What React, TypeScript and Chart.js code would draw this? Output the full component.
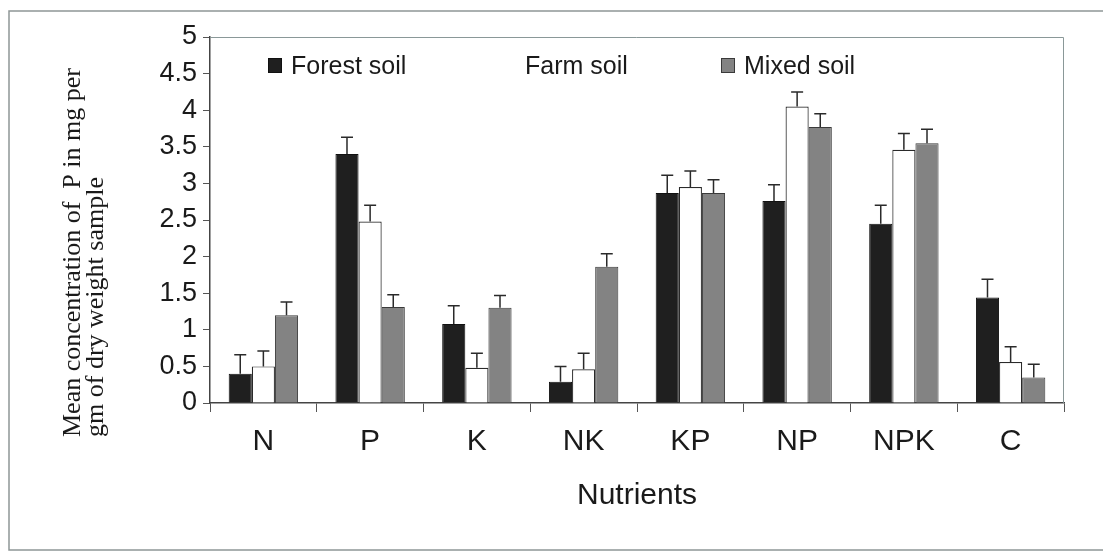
import React, { useEffect, useRef } from "react";
import { Chart, registerables } from "chart.js";

Chart.register(...registerables);

const categories = ["N", "P", "K", "NK", "KP", "NP", "NPK", "C"];
const seriesNames = ["Forest soil", "Farm soil", "Mixed soil"];
const forestValues = [0.4, 3.4, 1.08, 0.29, 2.87, 2.76, 2.45, 1.44];
const farmValues = [0.5, 2.48, 0.48, 0.46, 2.95, 4.05, 3.46, 0.56];
const mixedValues = [1.2, 1.31, 1.3, 1.86, 2.87, 3.77, 3.55, 0.35];
const forestErrors = [0.26, 0.23, 0.25, 0.21, 0.24, 0.22, 0.25, 0.25];
const farmErrors = [0.21, 0.22, 0.2, 0.22, 0.22, 0.2, 0.22, 0.21];
const mixedErrors = [0.18, 0.17, 0.17, 0.18, 0.18, 0.18, 0.19, 0.18];
const yTickLabels = ["0", "0.5", "1", "1.5", "2", "2.5", "3", "3.5", "4", "4.5", "5"];
const yTitleLines = ["Mean concentration of  P in mg per", "gm of dry weight sample"];
const xTitle = "Nutrients";

const W = 1103;
const H = 557;

const errorBarPlugin = {
  id: "errorBars",
  afterDatasetsDraw(chart: any) {
    const ctx = chart.ctx;
    const yScale = chart.scales.y;
    ctx.save();
    ctx.strokeStyle = "#2a2a2a";
    ctx.lineWidth = 1.5;
    chart.data.datasets.forEach((ds: any, di: number) => {
      const meta = chart.getDatasetMeta(di);
      const errs = ds.errors as number[];
      meta.data.forEach((bar: any, i: number) => {
        const top = yScale.getPixelForValue(ds.data[i] + errs[i]);
        const x = bar.x;
        ctx.beginPath();
        ctx.moveTo(x, bar.y);
        ctx.lineTo(x, top);
        ctx.moveTo(x - 6, top);
        ctx.lineTo(x + 6, top);
        ctx.stroke();
      });
    });
    ctx.restore();
  },
};

const decorPlugin = {
  id: "decor",
  beforeDraw(chart: any) {
    const ctx = chart.ctx;
    ctx.save();
    ctx.fillStyle = "#ffffff";
    ctx.fillRect(0, 0, chart.width, chart.height);
    // scanned page frame
    ctx.strokeStyle = "#8e9696";
    ctx.lineWidth = 1.5;
    ctx.beginPath();
    ctx.moveTo(chart.width, 11);
    ctx.lineTo(9, 11);
    ctx.lineTo(9, 550);
    ctx.lineTo(chart.width, 550);
    ctx.stroke();
    ctx.restore();
  },
  afterDraw(chart: any) {
    const ctx = chart.ctx;
    const a = chart.chartArea;
    ctx.save();
    // plot frame top & right
    ctx.strokeStyle = "#8a9898";
    ctx.lineWidth = 1;
    ctx.beginPath();
    ctx.moveTo(a.left, a.top + 0.5);
    ctx.lineTo(a.right - 0.5, a.top + 0.5);
    ctx.lineTo(a.right - 0.5, a.bottom);
    ctx.stroke();

    // y-axis title, two lines, rotated, starting at bottom
    ctx.fillStyle = "#1a1a1a";
    ctx.font = "26px 'Liberation Serif', 'Times New Roman', serif";
    ctx.textAlign = "left";
    ctx.textBaseline = "alphabetic";
    const baseX = [80, 103];
    yTitleLines.forEach((line, i) => {
      ctx.save();
      ctx.translate(baseX[i], a.bottom + 34);
      ctx.rotate(-Math.PI / 2);
      ctx.fillText(line, 0, 0);
      ctx.restore();
    });

    // legend inside plot area
    const boxX = [58, 292, 511];
    const textX = [81, 315, 534];
    ctx.font = "25px 'Liberation Sans', Arial, sans-serif";
    ctx.textBaseline = "alphabetic";
    chart.data.datasets.forEach((ds: any, i: number) => {
      const bx = a.left + boxX[i];
      ctx.fillStyle = ds.backgroundColor;
      ctx.fillRect(bx, a.top + 21, 14, 15);
      if (ds.backgroundColor !== "#ffffff") {
        ctx.strokeStyle = ds.borderColor;
        ctx.lineWidth = 1;
        ctx.strokeRect(bx + 0.5, a.top + 21.5, 13, 14);
      }
      ctx.fillStyle = "#1a1a1a";
      ctx.fillText(ds.label, a.left + textX[i], a.top + 37);
    });
    ctx.restore();
  },
};

export default function App() {
  const ref = useRef<HTMLCanvasElement | null>(null);
  useEffect(() => {
    if (!ref.current) return;
    const chart = new Chart(ref.current, {
      type: "bar",
      data: {
        labels: categories,
        datasets: [
          {
            label: seriesNames[0],
            data: forestValues,
            errors: forestErrors,
            backgroundColor: "#1f1f1f",
            borderColor: "#111111",
            borderWidth: 1,
          } as any,
          {
            label: seriesNames[1],
            data: farmValues,
            errors: farmErrors,
            backgroundColor: "#ffffff",
            borderColor: "#2a2a2a",
            borderWidth: 1.2,
          } as any,
          {
            label: seriesNames[2],
            data: mixedValues,
            errors: mixedErrors,
            backgroundColor: "#838383",
            borderColor: "#3a3a3a",
            borderWidth: 1,
          } as any,
        ],
      },
      options: {
        responsive: false,
        animation: false,
        layout: { padding: { top: 37, right: 39, bottom: 0, left: 0 } },
        datasets: {
          bar: { categoryPercentage: 0.65, barPercentage: 1.0 },
        },
        plugins: {
          legend: { display: false },
          tooltip: { enabled: false },
        },
        scales: {
          x: {
            grid: {
              offset: true,
              drawOnChartArea: false,
              drawTicks: true,
              tickLength: 9,
              color: "#555555",
              lineWidth: 1,
            },
            border: { display: true, color: "#444444", width: 1.5 },
            ticks: {
              color: "#1a1a1a",
              font: { family: "'Liberation Sans', Arial, sans-serif", size: 30 },
              padding: 12,
            },
            title: {
              display: true,
              text: xTitle,
              color: "#1a1a1a",
              font: { family: "'Liberation Sans', Arial, sans-serif", size: 30 },
              padding: { top: 0, bottom: 43 },
            },
            afterFit: (s: any) => {
              s.height = 154;
            },
          },
          y: {
            min: 0,
            max: 5,
            ticks: {
              stepSize: 0.5,
              color: "#1a1a1a",
              font: { family: "'Liberation Sans', Arial, sans-serif", size: 27 },
              padding: 6,
              callback: (_v: any, i: number) => yTickLabels[i],
            },
            grid: {
              drawOnChartArea: false,
              drawTicks: true,
              tickLength: 7,
              color: "#555555",
            },
            border: { display: true, color: "#444444", width: 1.5 },
            afterFit: (s: any) => {
              s.width = 210;
            },
          },
        },
      },
      plugins: [errorBarPlugin, decorPlugin],
    } as any);
    return () => chart.destroy();
  }, []);
  return (
    <div style={{ position: "fixed", left: 0, top: 0, width: W, height: H, background: "#fff" }}>
      <canvas ref={ref} width={W} height={H} style={{ display: "block" }} />
    </div>
  );
}
